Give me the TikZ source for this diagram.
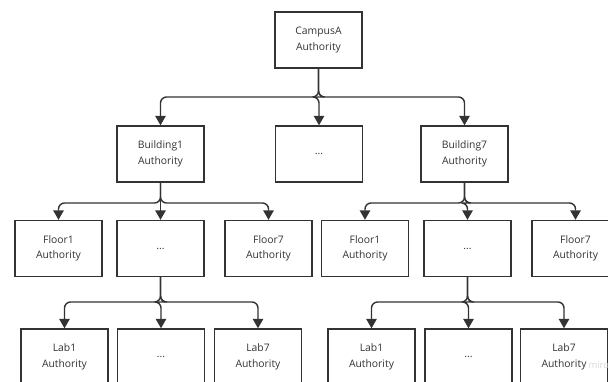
\documentclass[tikz,border=0pt]{standalone}
\usepackage{fontspec}
\setmainfont{Open Sans}
\usetikzlibrary{arrows.meta}
\definecolor{ink}{HTML}{333333}
\begin{document}
\begin{tikzpicture}[x=1bp,y=-1bp,
  authbox/.style={draw=ink, line width=1.4bp, minimum width=87bp, minimum height=56bp,
    inner sep=0pt, align=center, text=ink, font=\fontsize{10.4}{15.5}\selectfont},
  link/.style={draw=ink, line width=1.4bp, rounded corners=6bp,
    -{Triangle[width=10.5bp,length=9.5bp]}}]
\useasboundingbox (0,0) rectangle (608,381);
\begin{scope}
\clip (0,0) rectangle (608,381);
% campus level
\node[authbox] (campus) at (318.5,40) {CampusA\\Authority};
% building level
\node[authbox] (b1) at (160.5,154) {Building1\\Authority};
\node[authbox] (bm) at (319,154) {...};
\node[authbox] (b7) at (464.5,154) {Building7\\Authority};
% floor level
\node[authbox] (lf1) at (58.5,248.5) {Floor1\\Authority};
\node[authbox] (lfm) at (160.5,248.5) {...};
\node[authbox] (lf7) at (268.5,248.5) {Floor7\\Authority};
\node[authbox] (rf1) at (365,248.5) {Floor1\\Authority};
\node[authbox] (rfm) at (467.5,248.5) {...};
\node[authbox] (rf7) at (575.5,248.5) {Floor7\\Authority};
% lab level
\node[authbox] (ll1) at (64.5,357) {Lab1\\Authority};
\node[authbox] (llm) at (161,357) {...};
\node[authbox] (ll7) at (258,357) {Lab7\\Authority};
\node[authbox] (rl1) at (371.5,357) {Lab1\\Authority};
\node[authbox] (rlm) at (468.5,357) {...};
\node[authbox] (rl7) at (564,357) {Lab7\\Authority};
% connectors: parent, junction height, children
\foreach \p/\j/\cs in {campus/97/{b1,bm,b7},
                       b1/203/{lf1,lfm,lf7},
                       b7/203/{rf1,rfm,rf7},
                       lfm/302/{ll1,llm,ll7},
                       rfm/302/{rl1,rlm,rl7}}{
  \foreach \c in \cs {
    \draw[link] (\p.south) -- (\p.south |- 0,\j) -| (\c.north);
  }
}
\node[text=gray!30, font=\fontsize{9.5}{10}\selectfont, anchor=west] (mark) at (585,365) {miro};
\end{scope}
\end{tikzpicture}
\end{document}
